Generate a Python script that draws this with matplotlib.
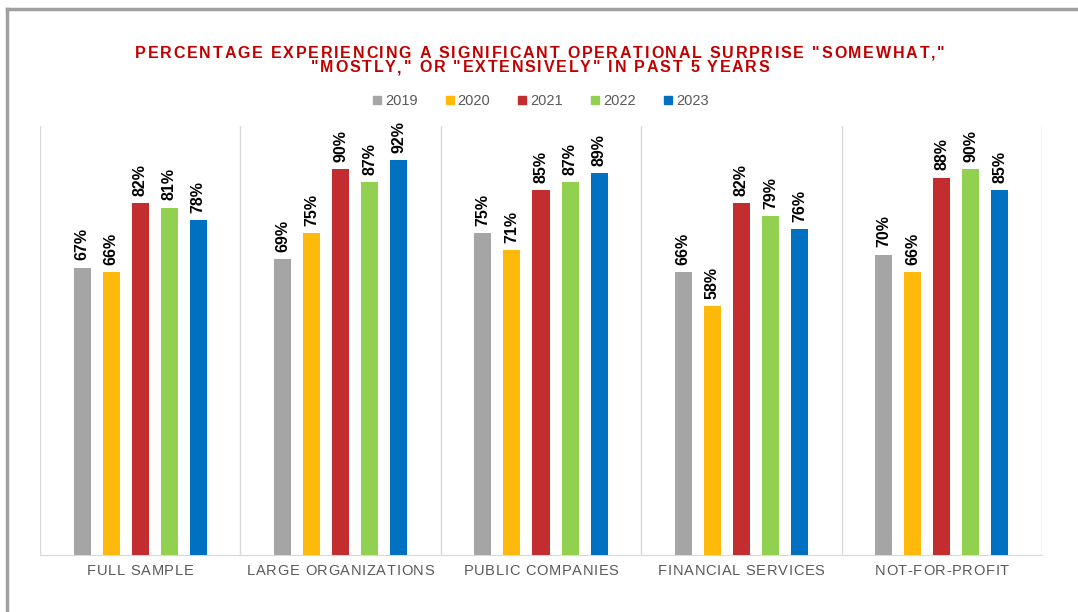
import numpy as np
import matplotlib.pyplot as plt
from matplotlib.lines import Line2D
from matplotlib.font_manager import FontProperties, findfont
from matplotlib.ft2font import FT2Font, LoadFlags

categories = ["FULL SAMPLE", "LARGE ORGANIZATIONS", "PUBLIC COMPANIES", "FINANCIAL SERVICES", "NOT-FOR-PROFIT"]
years = ["2019", "2020", "2021", "2022", "2023"]
values = {
    "2019": [67, 69, 75, 66, 70],
    "2020": [66, 75, 71, 58, 66],
    "2021": [82, 90, 85, 82, 88],
    "2022": [81, 87, 87, 79, 90],
    "2023": [78, 92, 89, 76, 85],
}
colors = ["#A5A5A5", "#FFB90A", "#C32D30", "#92D050", "#0070C0"]
title_lines = ['PERCENTAGE EXPERIENCING A SIGNIFICANT OPERATIONAL SURPRISE "SOMEWHAT,"',
               '"MOSTLY," OR "EXTENSIVELY" IN PAST 5 YEARS']

W, H = 1078, 612
plt.rcParams['font.family'] = ['Liberation Sans', 'DejaVu Sans']


def spaced_text(fig, x, y, s, tracking, prop, **kw):
    # draw text letter by letter with extra spacing (x, y in pixels, centred)
    font = FT2Font(findfont(prop))
    font.set_size(prop.get_size_in_points(), fig.dpi)
    adv = []
    for c in s:
        g = font.load_char(ord(c), flags=LoadFlags.NO_HINTING)
        adv.append(g.linearHoriAdvance / 65536)
    total = sum(adv) + tracking * (len(s) - 1)
    pos = x - total / 2
    for c, a in zip(s, adv):
        if c != ' ':
            fig.text((pos + a / 2) / W, y / H, c, ha='center', va='center',
                     fontproperties=prop, **kw)
        pos += a + tracking


fig = plt.figure(figsize=(W / 100, H / 100), dpi=100)
ax = fig.add_axes([0.0371, 0.0931, 0.9295, 0.7009])

x = np.arange(len(categories))
step = 0.145
width = 0.085
for i, yr in enumerate(years):
    pos = x + (i - 2) * step
    ax.bar(pos, values[yr], width=width, color=colors[i], zorder=3)
    for p, v in zip(pos, values[yr]):
        ax.text(p, v + 1.7, f"{v}%", rotation=90, ha='center', va='bottom',
                fontsize=11.5, fontweight='bold', color='black')

ax.set_xlim(-0.5, len(categories) - 0.5)
ax.set_ylim(0, 100)
ax.set_yticks([])
ax.set_xticks(x)
ax.set_xticklabels([])
ax.tick_params(axis='x', length=0)
for b in np.arange(-0.5, len(categories), 1.0):
    ax.axvline(b, color="#D9D9D9", lw=1, zorder=1)
for s in ['top', 'right', 'left']:
    ax.spines[s].set_visible(False)
ax.spines['bottom'].set_color("#D9D9D9")

# category labels with letter spacing
tick_prop = FontProperties(family='Liberation Sans', size=10.5)
for xi, cat in zip(x, categories):
    px = ax.transData.transform((xi, 0))[0]
    spaced_text(fig, px, H - 571, cat, 0.7, tick_prop, color="#595959")

# legend
handles = [Line2D([], [], marker='s', linestyle='', markersize=6, color=c) for c in colors]
fig.legend(handles, years, loc='center', bbox_to_anchor=(0.5, 1 - 101 / H), ncol=5, frameon=False,
           fontsize=10.5, labelcolor="#595959", handletextpad=0.05, columnspacing=1.7,
           handlelength=1.0)

# title
title_prop = FontProperties(family='Liberation Sans', size=11.5, weight='bold')
spaced_text(fig, 540, H - 53, title_lines[0], 1.8, title_prop, color="#C00000")
spaced_text(fig, 540, H - 68, title_lines[1], 1.8, title_prop, color="#C00000")

# outer frame
fig.add_artist(Line2D([0.0065, 0.0065], [0, 0.985], color="#A0A0A0", lw=2.5, transform=fig.transFigure))
fig.add_artist(Line2D([0.0065, 1.0], [0.985, 0.985], color="#A0A0A0", lw=2.5, transform=fig.transFigure))

fig.savefig("out.png", dpi=100)
